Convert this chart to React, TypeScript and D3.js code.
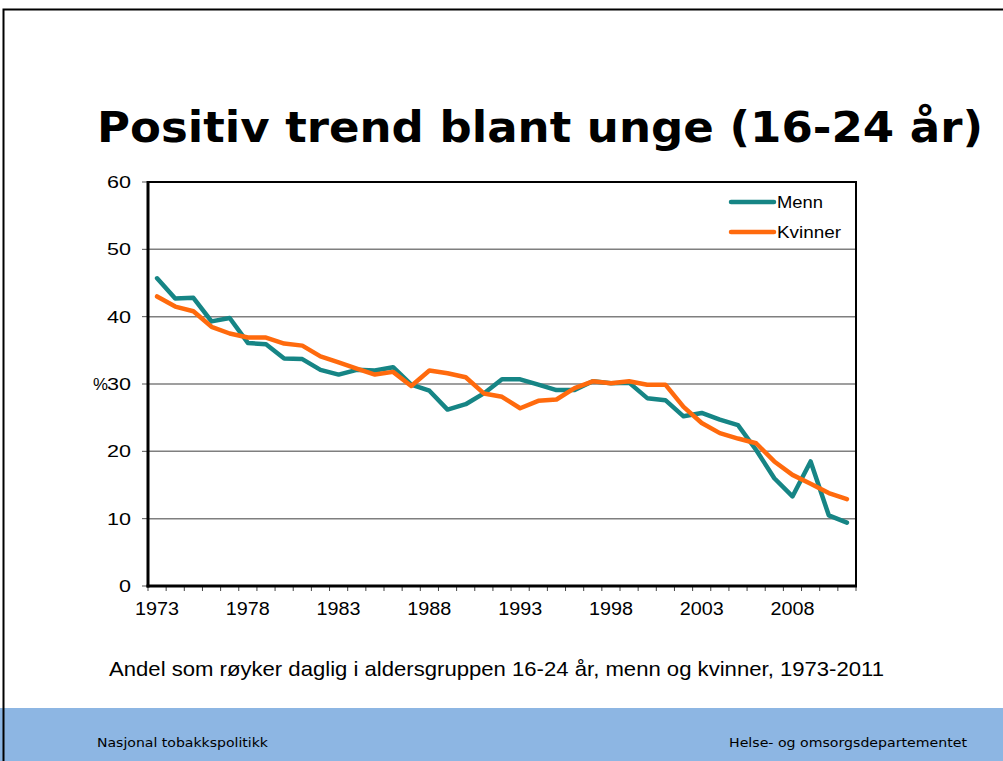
import React, { useEffect, useRef } from "react";
import * as d3 from "d3";

const years: number[] = d3.range(1973, 2012);
const menn: number[] = [45.7, 42.7, 42.8, 39.3, 39.8, 36.1, 35.9, 33.8, 33.7, 32.1, 31.4, 32.1, 32.0, 32.5, 29.9, 29.0, 26.2, 27.0, 28.6, 30.7, 30.7, 29.9, 29.1, 29.1, 30.4, 30.1, 30.2, 27.9, 27.6, 25.2, 25.7, 24.7, 23.9, 20.2, 16.0, 13.3, 18.5, 10.5, 9.4];
const kvinner: number[] = [43.0, 41.5, 40.8, 38.5, 37.5, 36.9, 36.9, 36.0, 35.7, 34.1, 33.2, 32.3, 31.4, 31.8, 29.7, 32.0, 31.6, 31.0, 28.6, 28.1, 26.4, 27.5, 27.7, 29.4, 30.4, 30.1, 30.4, 29.9, 29.9, 26.6, 24.2, 22.7, 21.9, 21.2, 18.5, 16.5, 15.2, 13.8, 12.9];
const yTicks: number[] = [0, 10, 20, 30, 40, 50, 60];
const xLabelYears: number[] = [1973, 1978, 1983, 1988, 1993, 1998, 2003, 2008];
const seriesNames: string[] = ["Menn", "Kvinner"];
const seriesColors: string[] = ["#168585", "#FF6A0D"];

export default function App() {
  const ref = useRef<SVGSVGElement>(null);
  useEffect(() => {
    const svg = d3.select(ref.current);
    svg.selectAll("*").remove();
    const W = 1003, H = 761;
    const sans = "Liberation Sans, Arial";
    svg.append("rect").attr("width", W).attr("height", H).attr("fill", "#fff");

    // footer band
    svg.append("rect").attr("x", 0).attr("y", 708).attr("width", W).attr("height", H - 708).attr("fill", "#8DB6E3");
    svg.append("text").attr("x", 97).attr("y", 747).attr("font-family", "DejaVu Sans").attr("font-size", 12.5)
      .attr("textLength", 171).attr("lengthAdjust", "spacingAndGlyphs").attr("fill", "#000").text("Nasjonal tobakkspolitikk");
    svg.append("text").attr("x", 729).attr("y", 747).attr("font-family", "DejaVu Sans").attr("font-size", 12.5)
      .attr("textLength", 238).attr("lengthAdjust", "spacingAndGlyphs").attr("fill", "#000").text("Helse- og omsorgsdepartementet");

    // slide border
    svg.append("path").attr("d", `M3.5,${H} V9.5 H${W}`).attr("fill", "none").attr("stroke", "#000").attr("stroke-width", 2);

    // title
    svg.append("text").attr("x", 97).attr("y", 142).attr("font-family", "DejaVu Sans").attr("font-weight", "bold").attr("font-size", 43)
      .attr("textLength", 886).attr("lengthAdjust", "spacingAndGlyphs").attr("fill", "#000").text("Positiv trend blant unge (16-24 år)");

    const left = 148, right = 856, top = 182, bottom = 586;
    const x = d3.scaleBand<number>().domain(years).range([left, right]);
    const y = d3.scaleLinear().domain([0, 60]).range([bottom, top]);
    const cx = (yr: number) => (x(yr) as number) + x.bandwidth() / 2;

    // gridlines
    svg.append("g").selectAll("line").data(yTicks.filter(t => t > 0 && t < 60)).join("line")
      .attr("x1", left).attr("x2", right).attr("y1", d => y(d)).attr("y2", d => y(d))
      .attr("stroke", "#7f7f7f").attr("stroke-width", 1.5);

    // frame top/right
    svg.append("path").attr("d", `M${left},${top} H${right} V${bottom}`).attr("fill", "none").attr("stroke", "#000").attr("stroke-width", 2);

    // y tick marks
    svg.append("g").selectAll("line").data(yTicks).join("line")
      .attr("x1", left - 6).attr("x2", left).attr("y1", d => y(d)).attr("y2", d => y(d))
      .attr("stroke", "#555").attr("stroke-width", 1);
    // y labels
    svg.append("g").selectAll("text").data(yTicks).join("text")
      .attr("x", d => (d === 0 ? 119 : 107)).attr("y", d => y(d) + 6)
      .attr("textLength", d => (d === 0 ? 12 : 24)).attr("lengthAdjust", "spacingAndGlyphs")
      .attr("font-family", sans).attr("font-size", 17).attr("fill", "#000").text(d => String(d));
    svg.append("text").attr("x", 93).attr("y", y(30) + 6).attr("textLength", 15).attr("lengthAdjust", "spacingAndGlyphs")
      .attr("font-family", sans).attr("font-size", 16).attr("fill", "#000").text("%");

    // x tick marks at band boundaries
    const bounds = years.map(yr => x(yr) as number).concat([right]);
    svg.append("g").selectAll("line").data(bounds).join("line")
      .attr("x1", d => d).attr("x2", d => d).attr("y1", bottom).attr("y2", bottom + 5)
      .attr("stroke", "#444").attr("stroke-width", 1);
    svg.append("g").selectAll("text").data(xLabelYears).join("text")
      .attr("x", d => cx(d) - 22).attr("y", 615)
      .attr("textLength", 44).attr("lengthAdjust", "spacingAndGlyphs")
      .attr("font-family", sans).attr("font-size", 18).attr("fill", "#000").text(d => String(d));

    // axes lines
    svg.append("line").attr("x1", left).attr("x2", left).attr("y1", top - 1).attr("y2", bottom + 1.5).attr("stroke", "#000").attr("stroke-width", 3);
    svg.append("line").attr("x1", left - 1.5).attr("x2", right + 1).attr("y1", bottom).attr("y2", bottom).attr("stroke", "#000").attr("stroke-width", 3);

    // series
    const line = d3.line<number>().x((_, i) => cx(years[i])).y(d => y(d));
    [menn, kvinner].forEach((s, i) => {
      svg.append("path").attr("d", line(s) as string).attr("fill", "none").attr("stroke", seriesColors[i])
        .attr("stroke-width", 4.5).attr("stroke-linejoin", "round").attr("stroke-linecap", "round");
    });

    // legend
    const legendLen = [46, 64];
    seriesNames.forEach((n, i) => {
      const ly = 202 + i * 30;
      svg.append("line").attr("x1", 731).attr("x2", 774).attr("y1", ly).attr("y2", ly)
        .attr("stroke", seriesColors[i]).attr("stroke-width", 4.5).attr("stroke-linecap", "round");
      svg.append("text").attr("x", 777).attr("y", ly + 6).attr("textLength", legendLen[i]).attr("lengthAdjust", "spacingAndGlyphs")
        .attr("font-family", sans).attr("font-size", 16).attr("fill", "#000").text(n);
    });

    // subtitle
    svg.append("text").attr("x", 109).attr("y", 676).attr("font-family", sans).attr("font-size", 21)
      .attr("textLength", 775).attr("lengthAdjust", "spacingAndGlyphs").attr("fill", "#000")
      .text("Andel som røyker daglig i aldersgruppen 16-24 år, menn og kvinner, 1973-2011");
  }, []);
  return <svg ref={ref} width={1003} height={761} style={{ position: "absolute", left: 0, top: 0, display: "block" }} />;
}
